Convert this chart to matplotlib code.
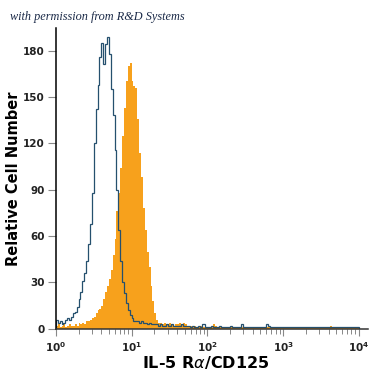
import matplotlib.pyplot as plt
import numpy as np

# histogram channels: 40 per decade, 10^0 .. 10^4 (log10 edges)
bin_width = 0.025
log_edges = np.arange(0, 4 + bin_width / 2, bin_width)

# isotype control (outline)
isotype = [6, 4, 5, 3, 4, 6, 7, 6, 8, 10, 11, 14, 19, 24, 31, 36, 44, 55, 68, 88,
           120, 142, 158, 176, 185, 171, 184, 189, 178, 155, 138, 116, 90, 64, 44, 30, 23, 17, 12, 9,
           7, 5, 5, 5, 4, 5, 4, 4, 3, 4, 3, 3, 3, 3, 2, 3, 2, 2, 3, 2,
           2, 3, 2, 2, 2, 2, 3, 2, 2, 2, 2, 1, 2, 1, 1, 2, 1, 3, 3, 1,
           1, 1, 2, 1, 1, 1, 2, 1, 1, 1, 1, 1, 2, 1, 1, 1, 1, 1, 3, 1,
           1, 1, 1, 1, 1, 1, 1, 1, 1, 1, 1, 3, 2, 1, 1, 1, 1, 1, 1, 1,
           1, 1, 1, 1, 1, 1, 1, 1, 1, 1, 1, 1, 1, 1, 1, 1, 1, 1, 1, 1,
           1, 1, 1, 1, 1, 1, 1, 1, 1, 1, 1, 1, 1, 1, 1, 1, 1, 1, 1, 1]

# IL-5 Ra stained (filled)
stained = [2, 3, 1, 2, 3, 1, 2, 3, 2, 2, 3, 2, 4, 3, 4, 3, 5, 5, 6, 7,
           8, 10, 12, 13, 15, 19, 24, 28, 32, 38, 48, 58, 76, 88, 104, 125, 143, 160, 170, 172,
           160, 157, 156, 136, 114, 98, 78, 64, 50, 40, 28, 18, 10, 6, 4, 4, 3, 4, 3, 3,
           4, 3, 2, 3, 3, 4, 3, 4, 3, 2, 2, 2, 1, 2, 1, 1, 2, 1, 1, 1,
           1, 1, 1, 3, 2, 1, 1, 1, 1, 1, 1, 1, 1, 1, 1, 1, 1, 1, 1, 1,
           1, 1, 1, 1, 1, 1, 1, 1, 1, 1, 1, 1, 1, 1, 1, 1, 1, 1, 1, 1,
           1, 1, 1, 1, 1, 1, 1, 1, 1, 1, 1, 1, 1, 1, 1, 1, 1, 1, 1, 1,
           1, 1, 1, 1, 1, 2, 1, 1, 1, 1, 1, 1, 1, 1, 1, 1, 1, 1, 1, 1]

yticks = [0, 30, 60, 90, 120, 150, 180]
xticks = [1, 10, 100, 1000, 10000]
xtick_labels = [r'$\mathbf{10^{0}}$', r'$\mathbf{10^{1}}$', r'$\mathbf{10^{2}}$',
                r'$\mathbf{10^{3}}$', r'$\mathbf{10^{4}}$']

edges = 10 ** log_edges

fig = plt.figure(figsize=(3.75, 3.75), dpi=100)
ax = fig.add_axes([0.149, 0.123, 0.832, 0.802])

ax.stairs(stained, edges, fill=True, color='#F7A11C', linewidth=0)
ax.stairs(isotype, edges, color='#25506E', linewidth=0.9)

ax.set_xscale('log')
ax.set_xlim(1, 10 ** 4.12)
ax.set_ylim(0, 194.5)

ax.set_yticks(yticks)
ax.set_yticklabels([str(v) for v in yticks], fontsize=7.5, fontweight='bold', color='#222222')
ax.set_xticks(xticks)
ax.set_xticklabels(xtick_labels, fontsize=7.5, color='#222222')
ax.xaxis.set_minor_locator(plt.matplotlib.ticker.LogLocator(base=10, subs=np.arange(2, 10)))
ax.xaxis.set_minor_formatter(plt.NullFormatter())

ax.tick_params(axis='y', length=6, width=0.8, color='#888888', pad=2)
ax.tick_params(axis='x', which='major', length=5, width=0.8, color='#888888', pad=3)
ax.tick_params(axis='x', which='minor', length=3.5, width=0.7, color='#888888')

for s in ['top', 'right']:
    ax.spines[s].set_visible(False)
ax.spines['left'].set_linewidth(1.1)
ax.spines['bottom'].set_linewidth(1.1)
ax.spines['bottom'].set_color('#333333')

ax.set_ylabel('Relative Cell Number', fontsize=10.5, fontweight='bold')
ax.yaxis.set_label_coords(-0.112, 0.5)
ax.set_xlabel(r'IL-5 R$\alpha$/CD125', fontsize=11.5, fontweight='bold')
ax.xaxis.set_label_coords(0.48, -0.085)

fig.text(0.027, 0.955, 'with permission from R&D Systems', fontsize=8.8,
         family='Liberation Serif', style='italic', color='#1B2A48', va='center')

fig.savefig('out.png', dpi=100)
